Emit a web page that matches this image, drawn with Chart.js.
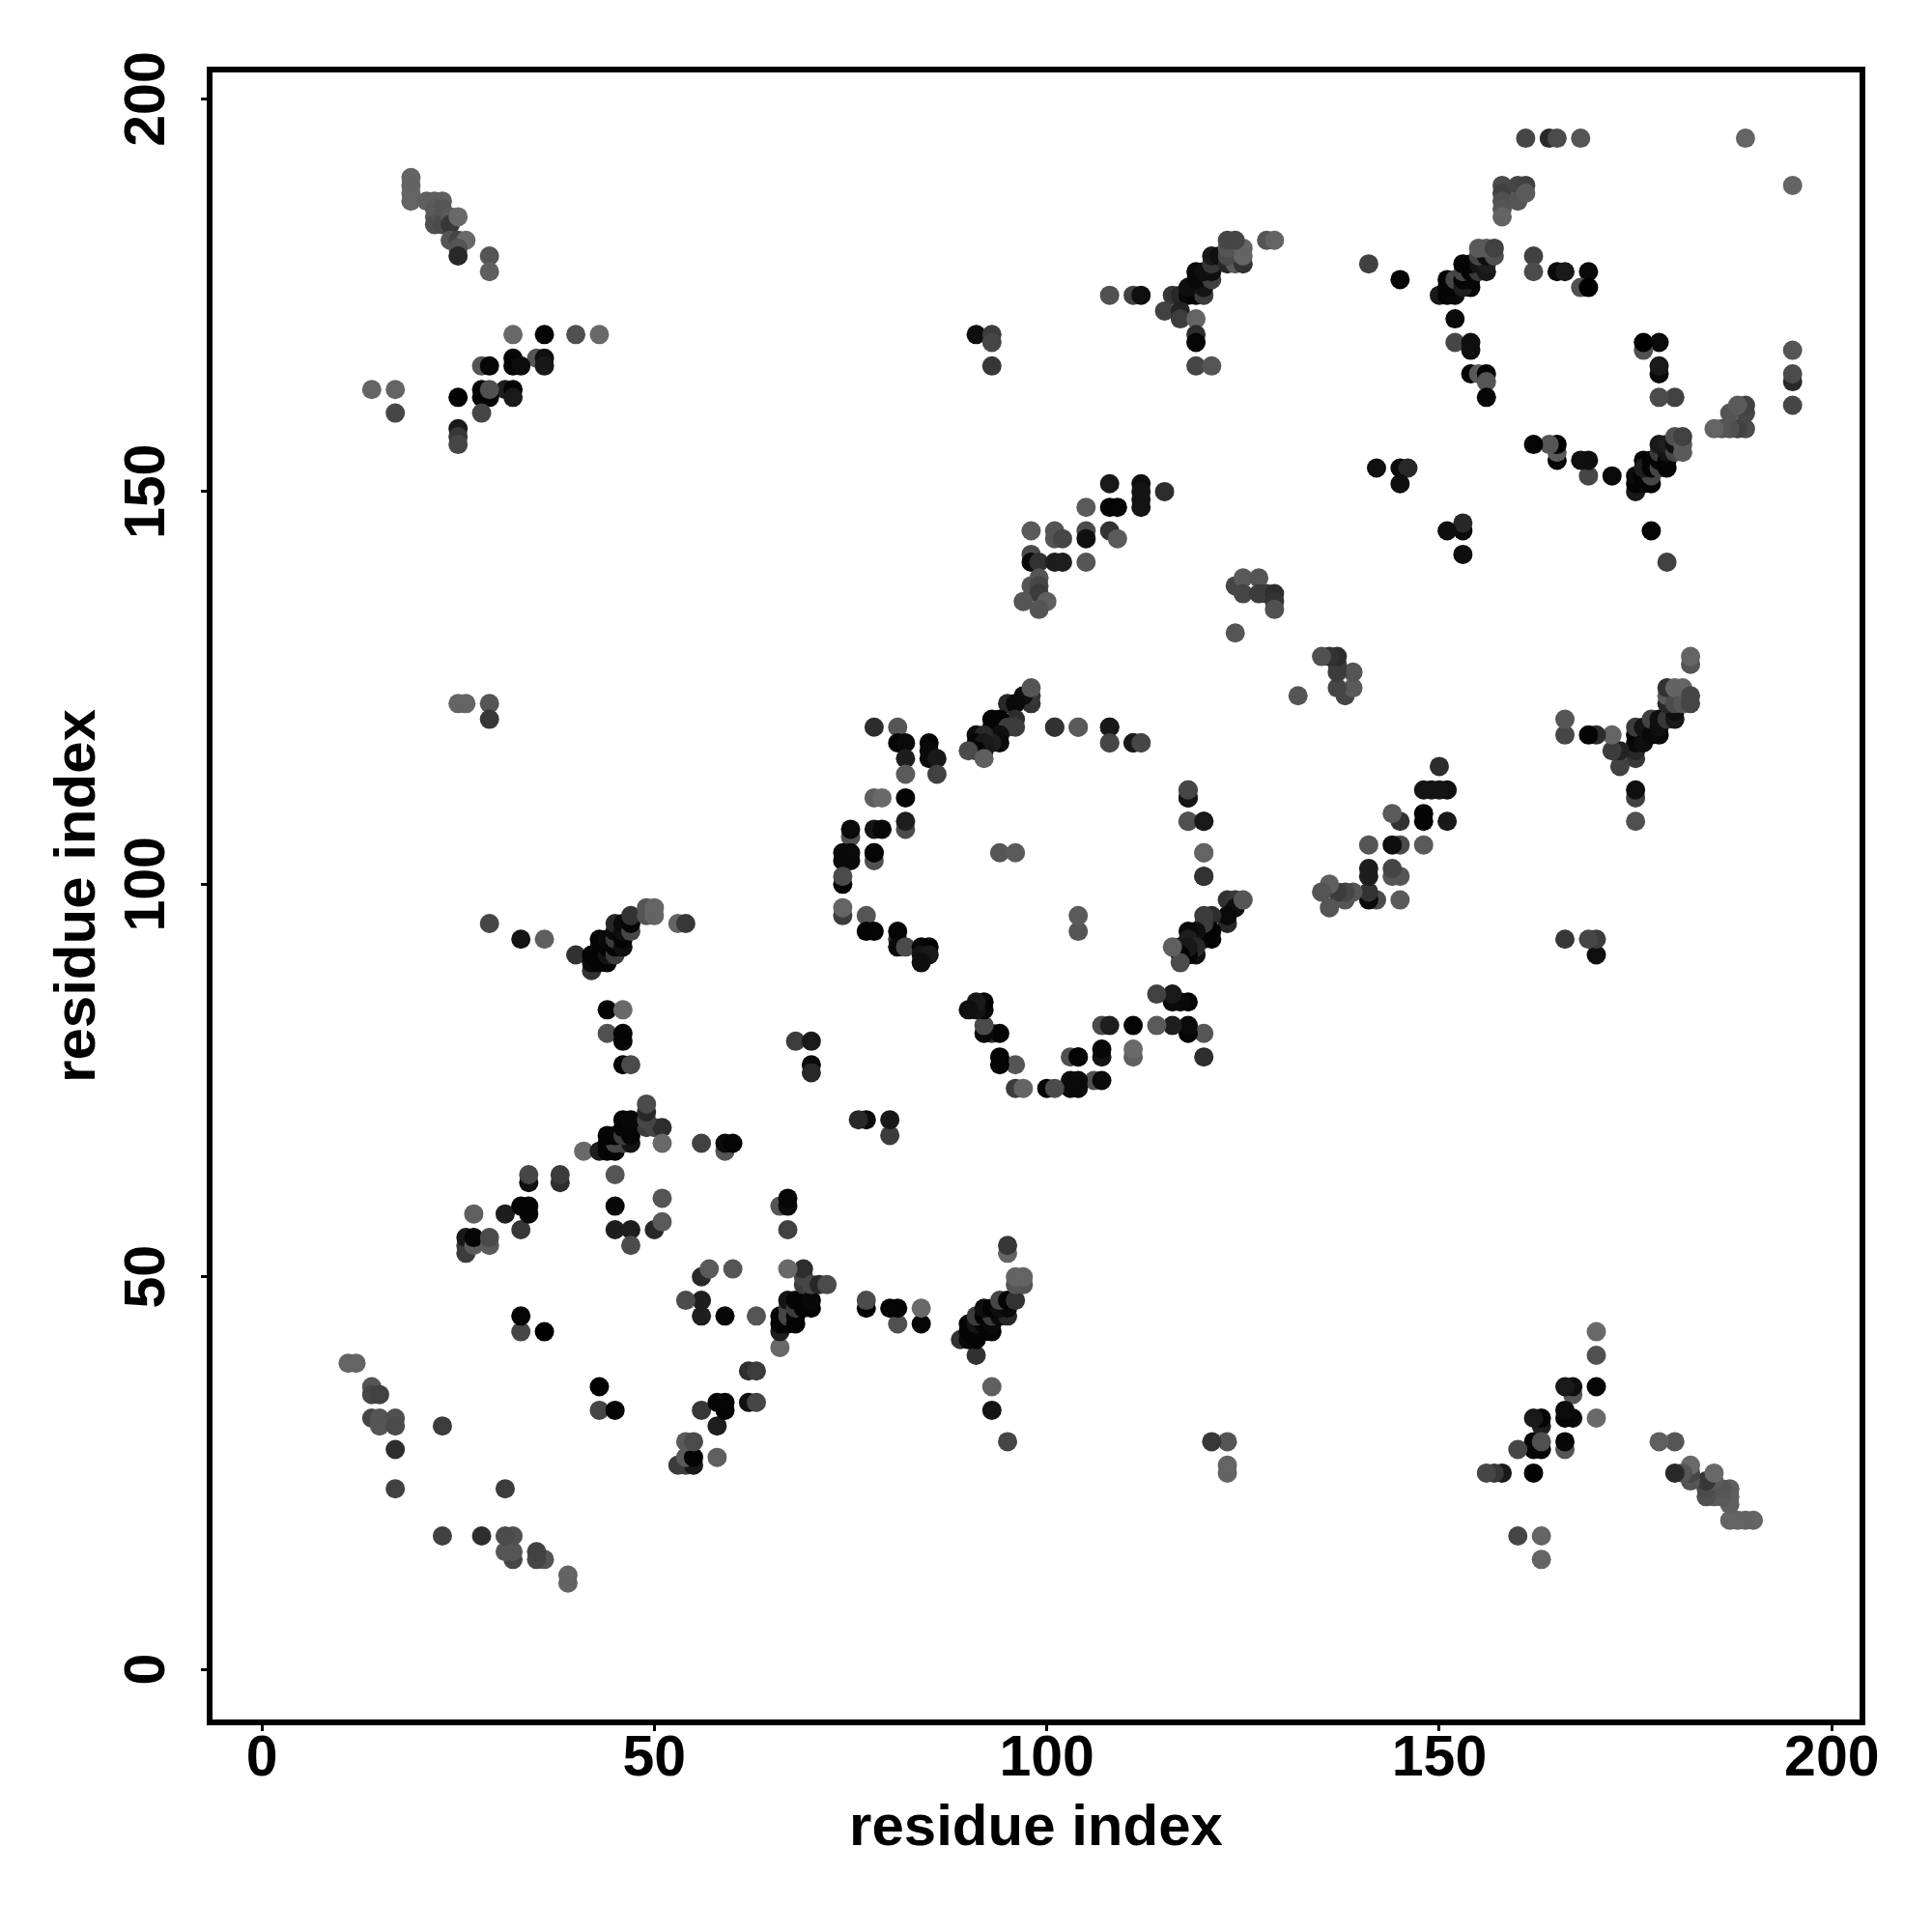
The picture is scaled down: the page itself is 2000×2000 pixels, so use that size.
<!DOCTYPE html>
<html>
<head>
<meta charset="utf-8">
<title>residue contact map</title>
<script src="https://cdn.jsdelivr.net/npm/chart.js@4/dist/chart.umd.min.js"></script>
<style>
  html, body { margin: 0; padding: 0; background: #fff; }
  canvas { display: block; }
</style>
</head>
<body>
<canvas id="contactMap" width="2000" height="2000"></canvas>
<script>
// Contacts, one entry per residue pair (i < j)
const residueI = [
  11,12,14,14,15,14,15,17,15,17,17,17,23,
  33,33,36,26,26,26,27,27,27,29,29,31,33,33,34,34,34,34,38,38,
  41,43,44,45,44,45,46,47,44,45,46,47,46,47,49,50,51,46,47,49,49,49,51,56,59,59,60,45,45,45,47,47,50,51,51,
  44,46,44,46,46,46,47,68,70,70,70,
  40,42,42,42,43,43,43,43,44,44,44,44,45,45,45,45,45,46,46,46,46,47,47,47,49,49,50,50,53,54,29,33,36,
  25,26,29,29,
  19,19,19,19,21,22,23,22,23,22,23,22,23,24,24,25,24,25,26,25,25,29,29,
  32,36,40,43,32,35,36,28,29,32,33,36,14,17,28,25,28,29,31,32,29,32,17,28,25,25,25,
  78,81,81,82,85,85,82,85,86,82,86,78,79,82,78,82,75,75,78,79,82,74,75,78,74,75,78,74,74,74,74,77,77,78,81,81,81,82,84,85,84,85,84,
  98,98,97,98,95,96,96,96,93,94,93,94,95,94,94,93,91,92,91,92,92,91,90,92,101,104,108,108,111,112,118,118,118,120,120,120,94,96,
  91,93,93,93,
  108,111,112,116,117,118,119,120,115,117,117,119,119,119,119,121,118,120,119,121,119,120,121,121,121,122,123,124,125,123,125,123,125,123,124,128,129,
  141,145,150,151,152,151,152,154,151,152,153,153,154,153,154,155,156,153,154,155,156,155,156,157,155,156,157,162,162,165,166,169,168,169,152,152,154,154,154,155,156,156,156,
  161,164,165,168,189,158,158,158,158,158,160,160,161,161,
  142,145,146,145,
  108,112,112,115,112,112,108,109,105,98,101,105,108,101,102,105,109,98,98,99,101,102,105,99,98,99,99,97,100,99,
  124,125,125,127,127,128,129,129,129,124
];
const residueJ = [
  39,39,36,35,35,32,32,32,31,31,28,23,31,
  43,45,43,53,54,55,54,55,58,54,55,58,56,59,58,59,62,63,62,63,
  66,66,66,66,67,67,67,67,68,68,68,68,69,69,69,69,69,70,70,70,71,72,67,67,66,67,67,63,59,56,56,54,56,57,60,
  84,84,81,81,80,77,77,80,80,77,76,
  91,89,90,91,90,91,92,93,90,91,92,93,91,92,93,94,95,92,93,94,95,94,95,96,96,97,96,97,95,95,95,93,93,
  123,123,123,121,
  190,189,188,187,187,187,187,186,186,185,185,184,184,185,184,185,182,182,182,181,180,180,178,
  170,170,170,170,167,167,167,166,166,166,166,166,163,163,163,162,162,162,163,163,163,162,160,160,158,157,156,
  120,120,118,118,118,117,116,116,116,114,114,111,111,111,107,107,106,107,103,107,108,103,103,104,104,104,104,100,101,96,97,96,94,94,93,94,92,92,92,92,91,91,90,
  123,124,124,125,123,123,121,120,121,121,120,120,120,119,118,118,119,119,118,118,117,117,117,116,120,120,120,118,118,118,111,112,108,108,104,101,104,104,
  170,170,169,166,
  175,175,175,175,175,175,175,175,173,173,172,172,170,169,166,166,176,176,177,177,178,178,178,179,180,180,179,179,179,180,180,181,181,182,182,182,182,
  179,177,175,175,175,176,176,176,177,177,176,177,177,178,178,178,178,179,179,179,179,180,180,180,181,181,181,180,178,178,178,178,176,176,172,169,169,168,165,165,165,164,162,
  195,195,195,195,195,189,188,187,186,185,189,187,189,188,
  153,153,153,151,
  151,151,150,150,149,148,148,148,148,145,145,145,145,144,144,144,144,142,141,141,141,141,141,139,138,138,137,136,136,135,
  138,139,137,139,137,137,137,136,135,132
];
const greyLevel = [
  100,100,85,70,65,70,85,80,85,75,45,65,60,
  70,5,0,60,60,25,90,5,95,90,75,30,55,5,5,5,15,70,45,60,
  105,30,5,5,5,70,70,20,5,5,60,5,5,5,60,70,45,5,8,70,40,75,105,65,85,12,5,85,8,30,30,75,40,90,85,
  5,105,80,5,5,5,75,60,25,12,40,
  50,50,10,5,5,5,5,5,5,20,5,10,60,5,60,10,40,15,5,15,10,70,5,50,85,85,100,100,100,55,70,20,95,
  100,100,85,55,
  100,100,100,100,95,95,95,90,85,90,85,80,75,90,55,105,85,70,105,85,40,85,95,
  105,5,80,105,8,85,15,85,8,5,12,25,100,100,5,3,5,5,30,5,80,25,70,70,25,55,70,
  45,85,5,10,5,10,30,10,25,90,65,95,105,5,20,75,80,10,80,8,30,10,10,10,10,10,5,5,75,60,100,85,5,5,50,5,10,75,8,3,20,25,15,
  50,55,15,85,40,10,45,60,5,5,5,5,60,15,10,30,15,40,5,25,25,5,75,95,50,90,25,70,25,70,20,70,80,25,100,50,85,90,
  15,60,70,55,
  80,65,15,55,40,10,5,60,65,35,60,100,45,5,70,85,15,20,10,65,10,15,15,55,25,15,40,90,50,75,100,85,100,70,70,85,100,
  65,5,25,5,10,5,5,5,5,70,30,5,5,70,5,60,25,5,5,20,30,70,15,80,90,90,65,65,75,10,25,10,80,0,10,70,15,15,5,90,0,85,5,
  70,40,75,85,100,75,65,80,85,100,70,85,65,90,
  15,10,40,15,
  25,15,20,45,20,20,5,5,90,90,85,75,50,85,70,15,90,75,10,50,30,30,85,85,85,70,60,85,95,85,
  70,90,70,85,60,60,45,50,80,85
];
const tickValues = [0, 50, 100, 150, 200];
const axisLabel = 'residue index';

const pointColors = greyLevel.map(g => `rgb(${g},${g},${g})`);

// Black frame round the plot area
const plotFrame = {
  id: 'plotFrame',
  afterDatasetsDraw(chart) {
    const { ctx, chartArea: a } = chart;
    ctx.save();
    ctx.lineWidth = 6;
    ctx.strokeStyle = '#000';
    ctx.lineJoin = 'miter';
    ctx.strokeRect(a.left, a.top, a.right - a.left, a.bottom - a.top);
    ctx.restore();
  }
};

function axisOptions(min, max, extra) {
  return {
    type: 'linear',
    min: min,
    max: max,
    afterBuildTicks: scale => { scale.ticks = tickValues.map(v => ({ value: v })); },
    border: { display: false },
    grid: { drawOnChartArea: false, drawTicks: true, tickLength: 9, tickWidth: 3, tickColor: '#000' },
    ...extra
  };
}

const fontFamily = '"Liberation Sans", Arial, sans-serif';

new Chart(document.getElementById('contactMap'), {
  type: 'scatter',
  data: {
    datasets: [
      {
        data: residueI.map((v, k) => ({ x: v, y: residueJ[k] })),
        backgroundColor: pointColors,
        pointRadius: 10,
        borderWidth: 0
      },
      {
        data: residueJ.map((v, k) => ({ x: v, y: residueI[k] })),
        backgroundColor: pointColors,
        pointRadius: 10,
        borderWidth: 0
      }
    ]
  },
  options: {
    responsive: false,
    devicePixelRatio: 1,
    animation: false,
    layout: { padding: { top: 72, right: 72, left: 0, bottom: 0 } },
    plugins: { legend: { display: false }, tooltip: { enabled: false } },
    scales: {
      x: axisOptions(-6.65, 203.9, {
        afterFit: scale => { scale.height = 217; },
        ticks: {
          autoSkip: false, maxRotation: 0, padding: -6, color: '#000',
          font: { family: fontFamily, size: 59, weight: 'bold' }
        },
        title: {
          display: true, text: axisLabel, color: '#000', padding: { top: 0, bottom: 71 },
          font: { family: fontFamily, size: 60, weight: 'bold' }
        }
      }),
      y: axisOptions(-6.75, 203.75, {
        afterFit: scale => { scale.width = 217; },
        ticks: {
          autoSkip: false, minRotation: 90, maxRotation: 90, crossAlign: 'center', padding: 5, color: '#000',
          font: { family: fontFamily, size: 59, weight: 'bold' }
        },
        title: {
          display: true, text: axisLabel, color: '#000', padding: { top: 45, bottom: 0 },
          font: { family: fontFamily, size: 60, weight: 'bold' }
        }
      })
    }
  },
  plugins: [plotFrame]
});
</script>
</body>
</html>
